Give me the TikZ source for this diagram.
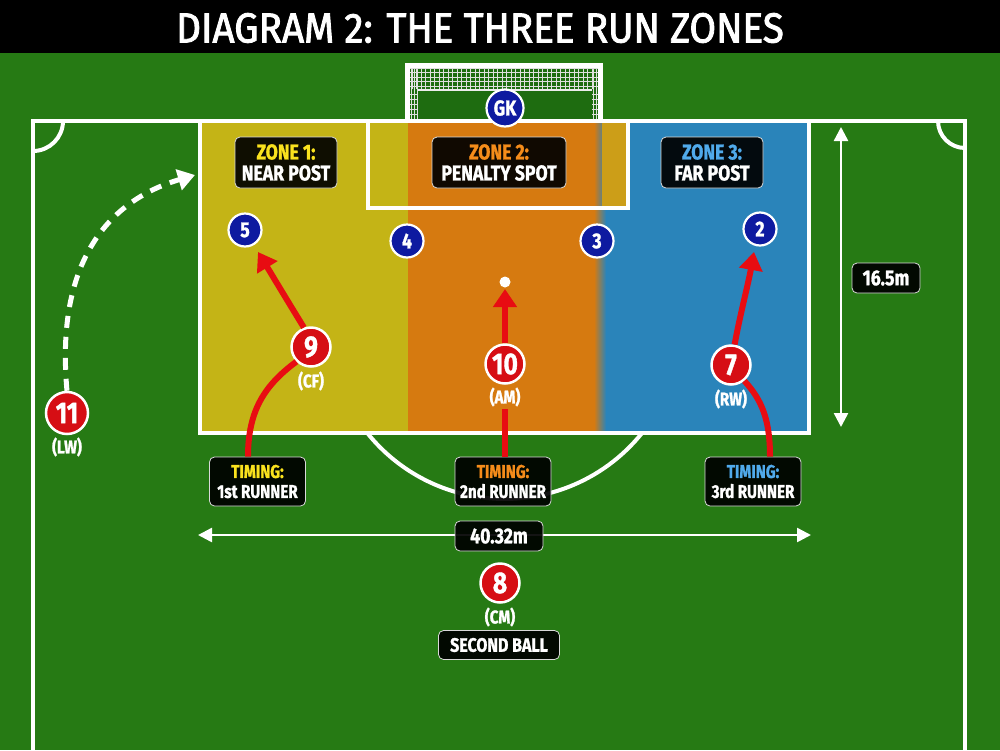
\documentclass[tikz,border=0pt]{standalone}
\usepackage{fontspec}
\setmainfont{Fira Sans}
\newfontfamily\cf[FakeStretch=0.82,FakeBold=1.2]{Fira Sans}
\newfontfamily\tf[FakeStretch=0.92,FakeBold=2]{Fira Sans}
\usetikzlibrary{arrows.meta}
\definecolor{grass}{RGB}{38,122,20}
\definecolor{goalgrass}{RGB}{30,108,16}
\definecolor{zy}{RGB}{196,180,22}
\definecolor{zo}{RGB}{214,122,16}
\definecolor{zb}{RGB}{42,132,186}
\definecolor{zg}{RGB}{204,158,24}
\definecolor{ty}{RGB}{250,226,30}
\definecolor{to}{RGB}{245,140,26}
\definecolor{tb}{RGB}{80,170,235}
\definecolor{pred}{RGB}{214,14,20}
\definecolor{pblue}{RGB}{14,26,160}
\definecolor{runred}{RGB}{232,12,18}
\tikzset{
  pitchline/.style={draw=white, line width=4},
  lblbox/.style={fill=black, fill opacity=0.92, text opacity=1, draw=white!70!gray, line width=0.8, rounded corners=5, align=center, text=white, inner sep=0, font=\cf\bfseries\fontsize{21.5}{21}\selectfont},
  tbox/.style={lblbox, font=\cf\bfseries\fontsize{18.5}{20}\selectfont},
  redp/.style={circle, fill=pred, draw=white, line width=2.5, minimum size=39, inner sep=0, text=white, font=\cf\bfseries\fontsize{30}{30}\selectfont},
  bluep/.style={circle, fill=pblue, draw=white, line width=2.2, minimum size=33, inner sep=0, text=white, font=\cf\bfseries\fontsize{21.5}{21}\selectfont},
  role/.style={text=white, font=\cf\bfseries\fontsize{18.5}{18}\selectfont, inner sep=0},
  run/.style={draw=runred, line width=6},
  runtip/.style={run, -{Triangle[width=23pt,length=18pt]}},
  dim/.style={draw=white, line width=2.5, {Triangle[width=14pt,length=14pt]}-{Triangle[width=14pt,length=14pt]}},
  net/.style={draw=white!75!gray, line width=0.7}
}
\begin{document}
\begin{tikzpicture}[x=1pt,y=-1pt]
\useasboundingbox (0,0) rectangle (1000,750);
\fill[grass] (0,0) rectangle (1000,750);
% title bar
\fill[black] (0,0) rectangle (1000,53);
\node[text=white, font=\tf\fontsize{42}{42}\selectfont, inner sep=0] (title) at (480,28) {DIAGRAM 2: THE THREE RUN ZONES};
% zones
\fill[zy] (200,121) rectangle (408,433);
\fill[zo] (408,121) rectangle (600,433);
\fill[zb] (600,121) rectangle (809,433);
\shade[left color=zo, right color=zb] (594,121) rectangle (606,433);
\fill[zg] (602,121) rectangle (628,208);
% goal
\fill[goalgrass] (407,65) rectangle (601,121);
\foreach \x in {412,416.5,...,598} \draw[net] (\x,68) -- (\x,89);
\foreach \y in {68,72.5,...,89} \draw[net] (410,\y) -- (598,\y);
\draw[white!85!gray, line width=1.5] (418,90) -- (592,90);
\foreach \x in {411,414,417} \draw[net] (\x,68) -- (\x,119);
\foreach \x in {593,596,599} \draw[net] (\x,68) -- (\x,119);
\foreach \y in {94,99,...,119} {\draw[net] (410,\y) -- (418,\y); \draw[net] (592,\y) -- (600,\y);}
\draw[white, line width=5] (407.5,121) -- (407.5,65.5) -- (600.5,65.5) -- (600.5,121);
% pitch lines
\draw[pitchline] (33,750) -- (33,121) -- (965,121) -- (965,750);
\draw[pitchline] (63,121) arc[start angle=0, end angle=90, radius=30];
\draw[pitchline] (965,148) arc[start angle=90, end angle=180, radius=27];
\draw[pitchline] (200,121) -- (200,433) -- (809,433) -- (809,121);
\draw[pitchline] (368,121) -- (368,208) -- (628,208) -- (628,121);
\draw[pitchline] (642,433) arc[start angle=38.7, end angle=141.3, radius=176];
% dimension arrows
\coordinate (d1a) at (841,127);
\coordinate (d1b) at (841,427);
\draw[dim] (d1a) -- (d1b);
\node[lblbox, minimum width=68, minimum height=30] (dimv) at (886,278) {16.5m};
\coordinate (d2a) at (198,535);
\coordinate (d2b) at (811,535);
\draw[dim] (d2a) -- (d2b);
\node[lblbox, minimum width=88, minimum height=30] (dimh) at (499,536) {40.32m};
% ball
\node[circle, fill=white, minimum size=11, inner sep=0] (ball) at (505,282) {};
% blue players
\node[bluep, minimum size=37] (gk) at (505,108) {GK};
\node[bluep] (b5) at (245,230) {5};
\node[bluep] (b4) at (407,241) {4};
\node[bluep] (b3) at (597,241) {3};
\node[bluep] (b2) at (760,229) {2};
% red players
\node[redp] (p9) at (311,347) {9};
\node[redp] (p10) at (505,364) {10};
\node[redp] (p7) at (731,365) {7};
\node[redp, minimum size=42] (p11) at (67,413) {11};
\node[redp] (p8) at (500,583) {8};
\node[role] (r9) at (311,381) {(CF)};
\node[role] (r10) at (505,397) {(AM)};
\node[role] (r7) at (731,399) {(RW)};
\node[role] (r11) at (67,447) {(LW)};
\node[role] (r8) at (500,617) {(CM)};
% label boxes
\node[lblbox, minimum width=102, minimum height=51] (z1) at (286,162.5) {\textcolor{ty}{ZONE 1:}\\NEAR POST};
\node[lblbox, minimum width=134, minimum height=51] (z2) at (499,162.5) {\textcolor{to}{ZONE 2:}\\PENALTY SPOT};
\node[lblbox, minimum width=102, minimum height=51] (z3) at (712,162.5) {\textcolor{tb}{ZONE 3:}\\FAR POST};
\node[tbox, minimum width=96, minimum height=49] (t1) at (257.5,481.5) {\textcolor{ty}{TIMING:}\\1st RUNNER};
\node[tbox, minimum width=96, minimum height=49] (t2) at (503,481.5) {\textcolor{to}{TIMING:}\\2nd RUNNER};
\node[tbox, minimum width=96, minimum height=49] (t3) at (753,481.5) {\textcolor{tb}{TIMING:}\\3rd RUNNER};
\node[lblbox, minimum width=121, minimum height=29, font=\cf\bfseries\fontsize{19.5}{20}\selectfont] (sb) at (499,645) {SECOND BALL};
% runs
\coordinate (tip9) at (258,252);
\coordinate (tip10) at (505,289);
\coordinate (tip7) at (754,252);
\coordinate (tip11) at (195,175);
\draw[run] (t1.north -| 248,0) .. controls (248,410) and (265,385) .. (p9.225);
\draw[runtip] (p9.110) .. controls (290,305) and (272,275) .. (tip9);
\draw[run] (t2.north -| p10) -- ([yshift=-2pt]r10.south);
\draw[runtip] (p10.north) -- (tip10);
\draw[run] (t3.north -| 770,0) .. controls (770,420) and (762,400) .. (p7.-50);
\draw[runtip] (p7.80) .. controls (740,315) and (748,285) .. (tip7);
\draw[white, line width=5, dash pattern=on 12pt off 9pt, -{Triangle[width=21pt,length=17pt]}] (p11.north) .. controls (55,260) and (110,200) .. (tip11);
\end{tikzpicture}
\end{document}
